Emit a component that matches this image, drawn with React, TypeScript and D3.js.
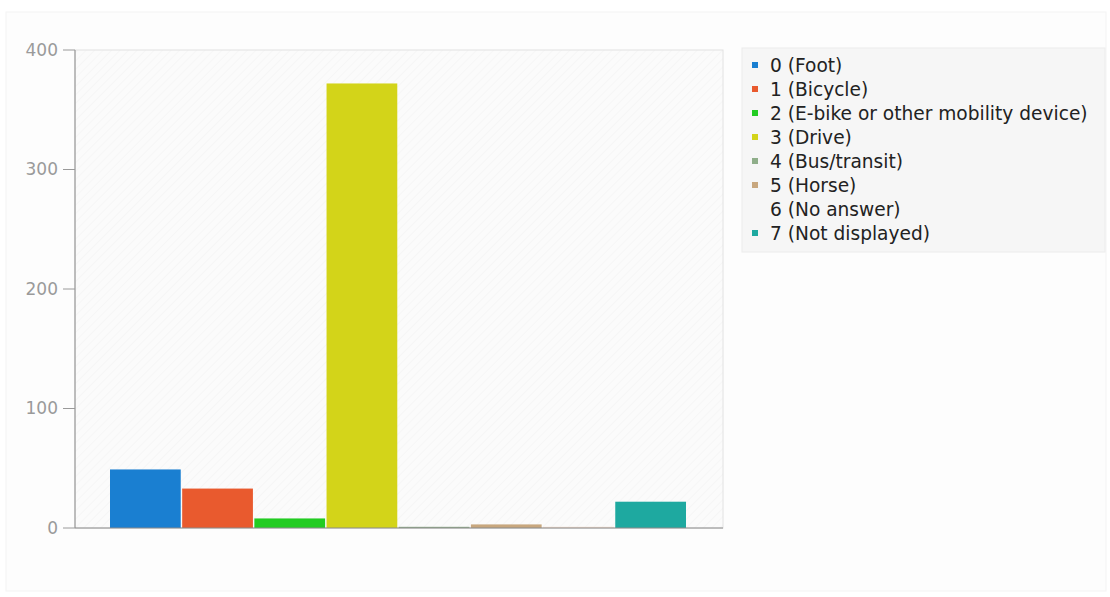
import React from "react";
import * as d3 from "d3";

const categories = [
  "0 (Foot)",
  "1 (Bicycle)",
  "2 (E-bike or other mobility device)",
  "3 (Drive)",
  "4 (Bus/transit)",
  "5 (Horse)",
  "6 (No answer)",
  "7 (Not displayed)",
];
const values = [49, 33, 8, 372, 1, 3, 1, 22];
const colors = ["#1a7fd1", "#e95a2e", "#22cc22", "#d3d419", "#8fae8a", "#c8a77e", "#f3ddd0", "#1ea9a0"];
const yTicks = [0, 100, 200, 300, 400];

export default function App() {
  const W = 1110, H = 597;
  const left = 75, right = 723, top = 50, bottom = 528;
  const y = d3.scaleLinear().domain([0, 400]).range([bottom, top]);
  const x = d3.scaleBand<string>().domain(categories).range([left + 35, right - 37]).paddingInner(0.02).paddingOuter(0);
  return (
    <svg width={W} height={H} style={{ position: "absolute", left: 0, top: 0, fontFamily: "DejaVu Sans, sans-serif" }}>
      <defs>
        <pattern id="hatch" width="6" height="6" patternUnits="userSpaceOnUse" patternTransform="rotate(45)">
          <rect width="6" height="6" fill="#fbfbfb" />
          <line x1="0" y1="0" x2="0" y2="6" stroke="#f1f1f1" strokeWidth="1" />
        </pattern>
      </defs>
      <rect x={0} y={0} width={W} height={H} fill="#ffffff" />
      <rect x={6} y={12} width={W - 10} height={H - 18} fill="#fdfdfd" stroke="#f3f3f3" />
      <rect x={left} y={top} width={right - left} height={bottom - top} fill="url(#hatch)" stroke="#e2e2e2" />
      {categories.map((c, i) => (
        <rect key={c} x={x(c)} y={y(values[i])} width={x.bandwidth()} height={bottom - y(values[i])} fill={colors[i]} />
      ))}
      <line x1={left} x2={left} y1={top} y2={bottom} stroke="#8a8a8a" />
      <line x1={left} x2={right} y1={bottom} y2={bottom} stroke="#8a8a8a" />
      {yTicks.map((t) => (
        <g key={t}>
          <line x1={left - 12} x2={left} y1={y(t)} y2={y(t)} stroke="#9a9a9a" />
          <text x={left - 17} y={y(t)} dy="0.35em" textAnchor="end" fontSize={17} fill="#9a9a9a">{t}</text>
        </g>
      ))}
      <rect x={742} y={48} width={363} height={204} fill="#f6f6f6" stroke="#ececec" />
      {categories.map((c, i) => (
        <g key={c} transform={`translate(752, ${65 + i * 24})`}>
          {i !== 6 && <rect x={0} y={-3} width={6} height={6} fill={colors[i]} />}
          <text x={18} y={0} dy="0.35em" fontSize={18.6} fill="#222">{c}</text>
        </g>
      ))}
    </svg>
  );
}
